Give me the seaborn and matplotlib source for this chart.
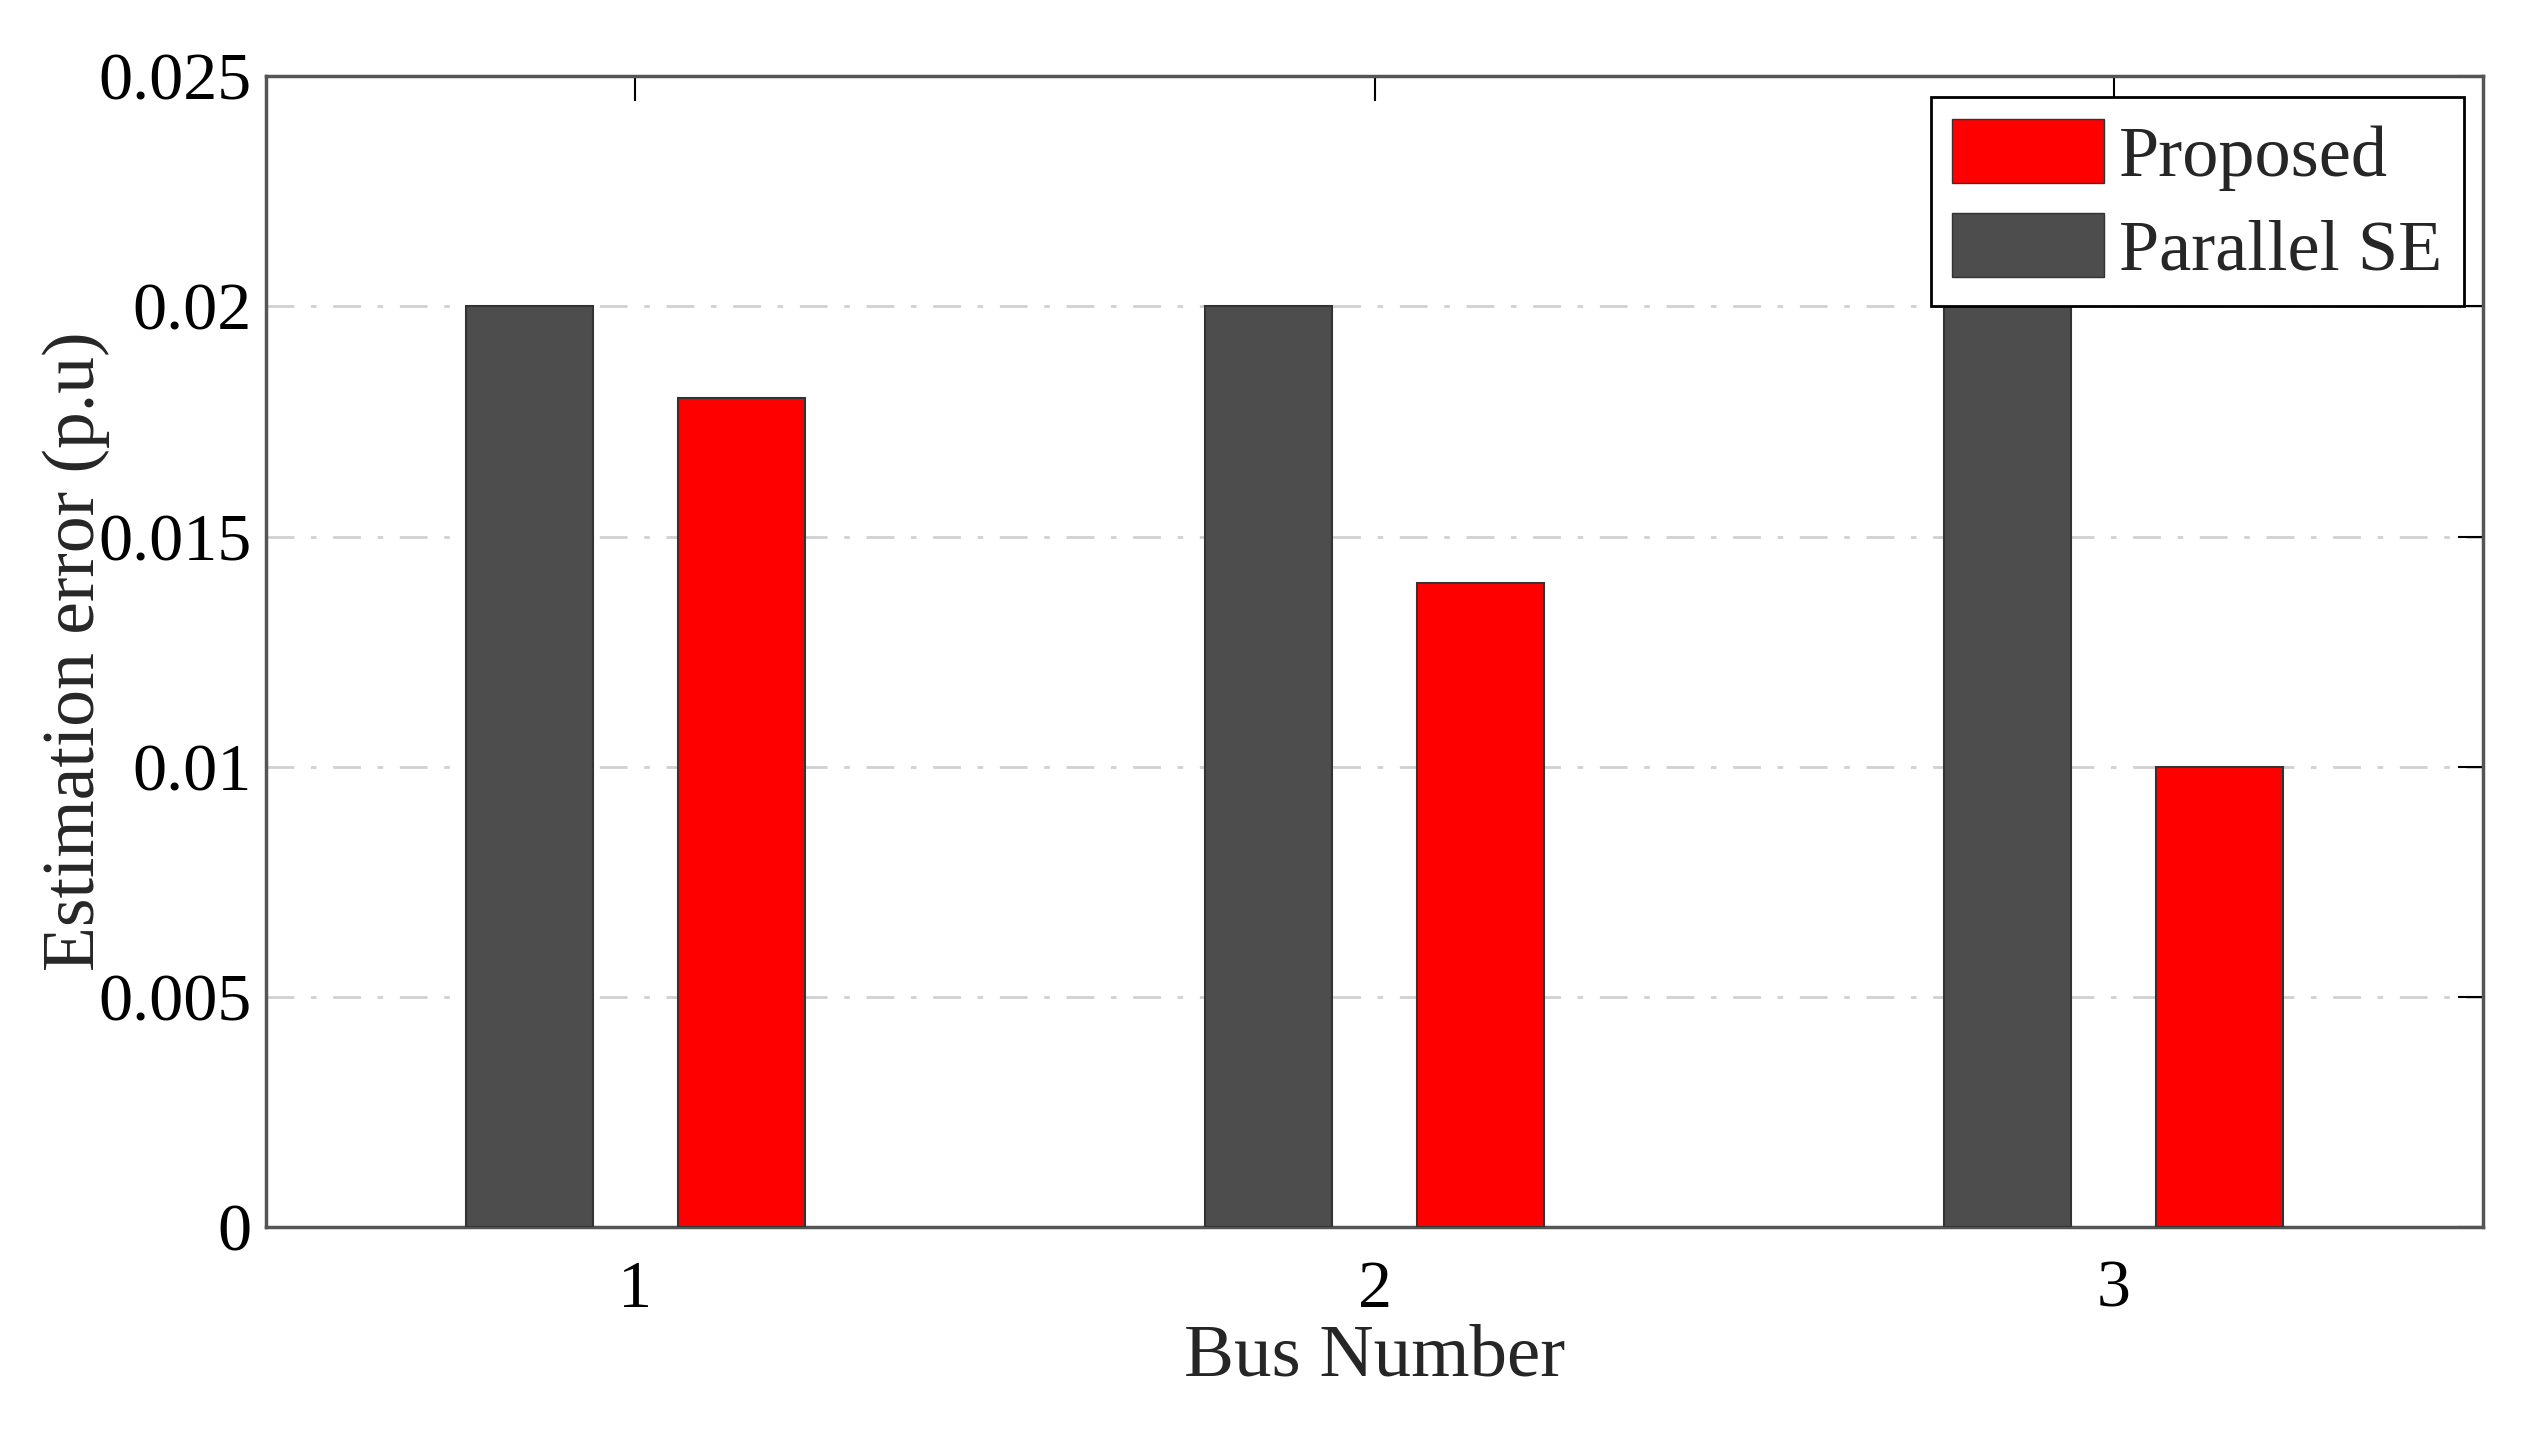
import pandas as pd
import matplotlib.pyplot as plt
import seaborn as sns
from matplotlib.patches import Patch

buses = ['1', '2', '3']
parallel_se = [0.020, 0.020, 0.020]
proposed = [0.018, 0.014, 0.010]
y_ticks = [0, 0.005, 0.01, 0.015, 0.02, 0.025]
y_labels = ['0', '0.005', '0.01', '0.015', '0.02', '0.025']

df = pd.DataFrame({
    'bus': buses * 2,
    'error': parallel_se + proposed,
    'method': ['Parallel SE'] * 3 + ['Proposed'] * 3,
})

sns.set_style('white')
plt.rcParams['font.family'] = ['Liberation Serif', 'DejaVu Serif']

fig = plt.figure(figsize=(25.29, 14.43), dpi=100)
ax = fig.add_axes([0.105, 0.150, 0.877, 0.797])

colors = {'Parallel SE': '#4d4d4d', 'Proposed': '#ff0000'}
sns.barplot(data=df, x='bus', y='error', hue='method', order=buses,
            hue_order=['Parallel SE', 'Proposed'], palette=colors, saturation=1,
            width=0.573, gap=0.4, errorbar=None, edgecolor='#333333',
            linewidth=1.5, legend=False, ax=ax, zorder=3)

ax.set_xlim(-0.5, 2.5)
ax.set_ylim(0, 0.025)
ax.set_yticks(y_ticks)
ax.set_yticklabels(y_labels)
ax.yaxis.grid(True, linestyle=(0, (10, 6, 2, 6)), color='#d0d0d0', linewidth=2, zorder=0)
ax.set_axisbelow(True)

ax.tick_params(axis='both', direction='in', length=18, width=1.5, top=True, right=True,
               labelsize=49, colors='black')
ax.tick_params(axis='x', pad=24)
ax.tick_params(axis='y', pad=10)
for s in ax.spines.values():
    s.set_color('#555555')
    s.set_linewidth(2.5)

ax.set_xlabel('Bus Number', fontsize=54, labelpad=2)
ax.set_ylabel('Estimation error (p.u)', fontsize=53, labelpad=-8)

handles = [Patch(facecolor='#ff0000', edgecolor='#333333', label='Proposed'),
           Patch(facecolor='#4d4d4d', edgecolor='#333333', label='Parallel SE')]
leg = ax.legend(handles=handles, loc='upper right', bbox_to_anchor=(0.991, 0.982),
                borderaxespad=0, fontsize=52, fancybox=False, framealpha=1,
                handlelength=2.1, handleheight=1.0, handletextpad=0.2,
                labelspacing=0.3, borderpad=0.3)
leg.get_frame().set_edgecolor('black')
leg.get_frame().set_linewidth(2)

plt.savefig('out.png', dpi=100)
plt.close()
